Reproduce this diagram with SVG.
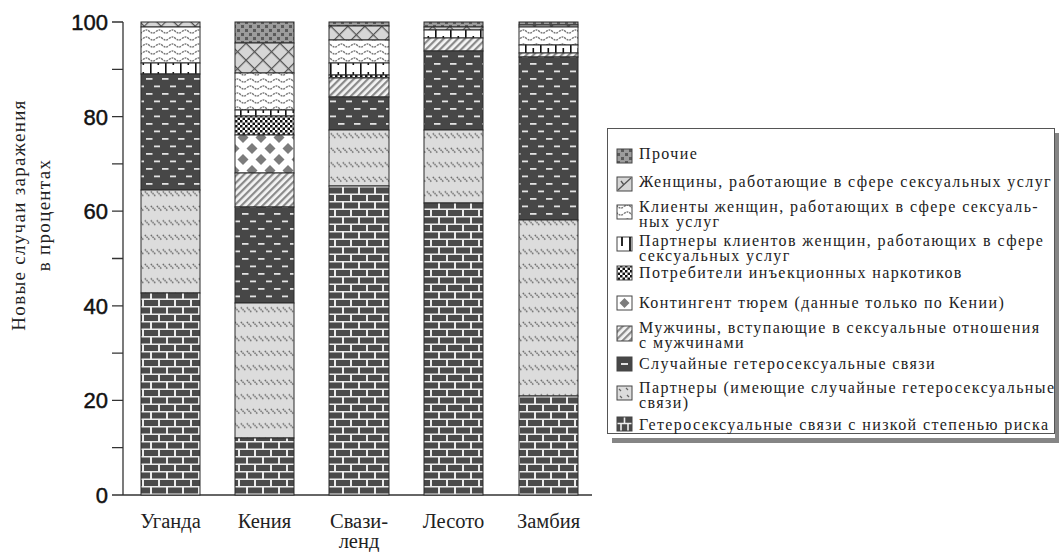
<svg xmlns="http://www.w3.org/2000/svg" width="1059" height="552" viewBox="0 0 1059 552">
<style>
.seg{stroke:#2a2a2a;stroke-width:1}
.ax{stroke:#333;stroke-width:1.3;fill:none}
.tl{font-family:"Liberation Sans",Arial,sans-serif;font-size:22px;fill:#111;stroke:#111;stroke-width:0.45;text-anchor:end}
.cl{font-family:"Liberation Serif","Times New Roman",serif;font-size:20.5px;fill:#222;text-anchor:middle}
.lg{font-family:"Liberation Serif","Times New Roman",serif;font-size:16px;letter-spacing:1.4px;fill:#222}
.yt{font-family:"Liberation Serif","Times New Roman",serif;font-size:19px;letter-spacing:1.3px;fill:#222;text-anchor:middle}
.sw{stroke:#444;stroke-width:1}
</style>
<defs>
<pattern id="pBrick" width="16" height="15" patternUnits="userSpaceOnUse">
<rect width="16" height="15" fill="#ececec"/>
<rect x="0" y="0" width="14" height="6" fill="#4a4a4a"/>
<rect x="-8" y="7.5" width="14" height="6" fill="#4a4a4a"/>
<rect x="8" y="7.5" width="14" height="6" fill="#4a4a4a"/>
</pattern>
<pattern id="pDark" width="16" height="15" patternUnits="userSpaceOnUse">
<rect width="16" height="15" fill="#474747"/>
<rect x="2" y="3" width="6.5" height="1.8" fill="#e2e2e2"/>
<rect x="10" y="10.5" width="6.5" height="1.8" fill="#e2e2e2"/>
</pattern>
<pattern id="pLight" width="6" height="14.5" patternUnits="userSpaceOnUse">
<rect width="6" height="14.5" fill="#dcdcdc"/>
<line x1="0.8" y1="3" x2="5.6" y2="7.8" stroke="#666" stroke-width="1.4" stroke-dasharray="1.6 0.8"/>
</pattern>
<pattern id="pHatch" width="5" height="5" patternUnits="userSpaceOnUse" patternTransform="rotate(45)">
<rect width="5" height="5" fill="#f4f4f4"/>
<rect x="0" y="0" width="2.2" height="5" fill="#8a8a8a"/>
</pattern>
<pattern id="pDiam" width="18" height="22" patternUnits="userSpaceOnUse">
<rect width="18" height="22" fill="#fff"/>
<polygon points="9,0 14.5,5.5 9,11 3.5,5.5" fill="#7c7c7c"/>
<polygon points="0,11 5.5,16.5 0,22 -5.5,16.5" fill="#7c7c7c"/>
<polygon points="18,11 23.5,16.5 18,22 12.5,16.5" fill="#7c7c7c"/>
</pattern>
<pattern id="pCheck" width="5" height="5" patternUnits="userSpaceOnUse">
<rect width="5" height="5" fill="#fff"/>
<rect x="0" y="0" width="2.5" height="2.5" fill="#111"/>
<rect x="2.5" y="2.5" width="2.5" height="2.5" fill="#111"/>
</pattern>
<pattern id="pTick" width="15" height="12" patternUnits="userSpaceOnUse">
<rect width="15" height="12" fill="#fff"/>
<rect x="0" y="0" width="1.6" height="12" fill="#111"/>
<rect x="7.5" y="0" width="1.6" height="5" fill="#111"/>
</pattern>
<pattern id="pWave" width="13" height="7" patternUnits="userSpaceOnUse">
<rect width="13" height="7" fill="#fff"/>
<path d="M0,3.5 Q3.25,0.5 6.5,3.5 T13,3.5" fill="none" stroke="#777" stroke-width="1.4" stroke-dasharray="2 0.8"/>
</pattern>
<pattern id="pWomen" width="12" height="12" patternUnits="userSpaceOnUse" patternTransform="rotate(45)">
<rect width="12" height="12" fill="#d6d6d6"/>
<path d="M0,0.6 H12 M0.6,0 V12" stroke="#555" stroke-width="1.2" fill="none"/>
</pattern>
<pattern id="pOther" width="8" height="8" patternUnits="userSpaceOnUse">
<rect width="8" height="8" fill="#9c9c9c"/>
<rect x="1" y="1" width="3" height="3" fill="#5a5a5a"/>
<rect x="5" y="5" width="3" height="3" fill="#5a5a5a"/>
</pattern>
</defs>

<g id="axis">
<line class="ax" x1="123" y1="22" x2="123" y2="495"/>
<line class="ax" x1="123" y1="495" x2="592" y2="495"/>
<path class="ax" d="M112,22H123M112,69.3H123M112,116.6H123M112,163.9H123M112,211.2H123M112,258.5H123M112,305.8H123M112,353.1H123M112,400.4H123M112,447.7H123M112,495H123"/>
<text class="tl" x="108" y="30">100</text>
<text class="tl" x="108" y="124.6">80</text>
<text class="tl" x="108" y="219.2">60</text>
<text class="tl" x="108" y="313.8">40</text>
<text class="tl" x="108" y="408.4">20</text>
<text class="tl" x="108" y="503">0</text>
<text class="yt" transform="translate(25,215) rotate(-90)">Новые случаи заражения</text>
<text class="yt" transform="translate(50,215) rotate(-90)">в процентах</text>
</g>

<g id="bar-uganda">
<rect class="seg" x="141" y="22" width="59" height="5" fill="url(#pWomen)"/>
<rect class="seg" x="141" y="27" width="59" height="36" fill="url(#pWave)"/>
<rect class="seg" x="141" y="63" width="59" height="11" fill="url(#pTick)"/>
<rect class="seg" x="141" y="74" width="59" height="116" fill="url(#pDark)"/>
<rect class="seg" x="141" y="190" width="59" height="103" fill="url(#pLight)"/>
<rect class="seg" x="141" y="293" width="59" height="202" fill="url(#pBrick)"/>
<text class="cl" x="170.5" y="528">Уганда</text>
</g>

<g id="bar-kenya">
<rect class="seg" x="235" y="22" width="59" height="21" fill="url(#pOther)"/>
<rect class="seg" x="235" y="43" width="59" height="30" fill="url(#pWomen)"/>
<rect class="seg" x="235" y="73" width="59" height="37" fill="url(#pWave)"/>
<rect class="seg" x="235" y="110" width="59" height="6" fill="url(#pTick)"/>
<rect class="seg" x="235" y="116" width="59" height="19" fill="url(#pCheck)"/>
<rect class="seg" x="235" y="135" width="59" height="38" fill="url(#pDiam)"/>
<rect class="seg" x="235" y="173" width="59" height="34" fill="url(#pHatch)"/>
<rect class="seg" x="235" y="207" width="59" height="96" fill="url(#pDark)"/>
<rect class="seg" x="235" y="303" width="59" height="135" fill="url(#pLight)"/>
<rect class="seg" x="235" y="438" width="59" height="57" fill="url(#pBrick)"/>
<text class="cl" x="264.5" y="528">Кения</text>
</g>

<g id="bar-swaziland">
<rect class="seg" x="329" y="22" width="60" height="4" fill="url(#pOther)"/>
<rect class="seg" x="329" y="26" width="60" height="14" fill="url(#pWomen)"/>
<rect class="seg" x="329" y="40" width="60" height="23" fill="url(#pWave)"/>
<rect class="seg" x="329" y="63" width="60" height="12" fill="url(#pTick)"/>
<rect class="seg" x="329" y="75" width="60" height="3" fill="url(#pCheck)"/>
<rect class="seg" x="329" y="78" width="60" height="19" fill="url(#pHatch)"/>
<rect class="seg" x="329" y="97" width="60" height="33" fill="url(#pDark)"/>
<rect class="seg" x="329" y="130" width="60" height="56" fill="url(#pLight)"/>
<rect class="seg" x="329" y="186" width="60" height="309" fill="url(#pBrick)"/>
<text class="cl" x="359" y="528">Свази-</text>
<text class="cl" x="359" y="548">ленд</text>
</g>

<g id="bar-lesotho">
<rect class="seg" x="424" y="22" width="59" height="5" fill="url(#pOther)"/>
<rect class="seg" x="424" y="27" width="59" height="3" fill="url(#pWomen)"/>
<rect class="seg" x="424" y="30" width="59" height="8" fill="url(#pTick)"/>
<rect class="seg" x="424" y="38" width="59" height="13" fill="url(#pHatch)"/>
<rect class="seg" x="424" y="51" width="59" height="79" fill="url(#pDark)"/>
<rect class="seg" x="424" y="130" width="59" height="73" fill="url(#pLight)"/>
<rect class="seg" x="424" y="203" width="59" height="292" fill="url(#pBrick)"/>
<text class="cl" x="453.5" y="528">Лесото</text>
</g>

<g id="bar-zambia">
<rect class="seg" x="519" y="22" width="59" height="3" fill="url(#pOther)"/>
<rect class="seg" x="519" y="25" width="59" height="2" fill="url(#pWomen)"/>
<rect class="seg" x="519" y="27" width="59" height="18" fill="url(#pWave)"/>
<rect class="seg" x="519" y="45" width="59" height="8" fill="url(#pTick)"/>
<rect class="seg" x="519" y="53" width="59" height="4" fill="url(#pHatch)"/>
<rect class="seg" x="519" y="57" width="59" height="163" fill="url(#pDark)"/>
<rect class="seg" x="519" y="220" width="59" height="176" fill="url(#pLight)"/>
<rect class="seg" x="519" y="396" width="59" height="99" fill="url(#pBrick)"/>
<text class="cl" x="548.5" y="528">Замбия</text>
</g>

<g id="connectors"></g>

<g id="legend">
<rect x="612" y="133" width="447" height="310" fill="#858585"/>
<rect x="607" y="128" width="448" height="310" fill="#fff"/>
<rect x="607.5" y="128.5" width="447" height="305" fill="#fff" stroke="#555" stroke-width="1"/>
<g id="lg-other">
<rect class="sw" x="617" y="149" width="15" height="14" fill="url(#pOther)"/>
<text class="lg" x="639" y="159">Прочие</text>
</g>
<g id="lg-women">
<rect class="sw" x="617" y="177" width="15" height="14" fill="#d6d6d6"/>
<path d="M618,190 L631,178 M621,181 L624,185" stroke="#555" stroke-width="1.3" fill="none"/>
<text class="lg" x="639" y="187">Женщины, работающие в сфере сексуальных услуг</text>
</g>
<g id="lg-clients">
<rect class="sw" x="617" y="205" width="15" height="14" fill="url(#pWave)"/>
<text class="lg" x="639" y="212">Клиенты женщин, работающих в сфере сексуаль-</text>
<text class="lg" x="639" y="227">ных услуг</text>
</g>
<g id="lg-partners-clients">
<rect class="sw" x="617" y="237" width="15" height="14" fill="#fff"/>
<path d="M622,237 V246 M630,237 V251" stroke="#111" stroke-width="1.8" fill="none"/>
<text class="lg" x="639" y="246">Партнеры клиентов женщин, работающих в сфере</text>
<text class="lg" x="639" y="261">сексуальных услуг</text>
</g>
<g id="lg-idu">
<rect class="sw" x="617" y="266" width="15" height="14" fill="url(#pCheck)"/>
<text class="lg" x="639" y="278">Потребители инъекционных наркотиков</text>
</g>
<g id="lg-prison">
<rect class="sw" x="617" y="296" width="15" height="14" fill="#fff"/>
<polygon points="624.5,298 629.5,303 624.5,308 619.5,303" fill="#7c7c7c"/>
<text class="lg" x="639" y="308">Контингент тюрем (данные только по Кении)</text>
</g>
<g id="lg-msm">
<rect class="sw" x="617" y="326" width="15" height="15" fill="url(#pHatch)"/>
<text class="lg" x="639" y="333">Мужчины, вступающие в сексуальные отношения</text>
<text class="lg" x="639" y="348">с мужчинами</text>
</g>
<g id="lg-casual">
<rect class="sw" x="617" y="357" width="15" height="14" fill="#474747"/>
<rect x="621" y="363" width="7" height="2" fill="#e2e2e2"/>
<text class="lg" x="639" y="369">Случайные гетеросексуальные связи</text>
</g>
<g id="lg-partners">
<rect class="sw" x="617" y="386" width="15" height="14" fill="#dcdcdc"/>
<path d="M619,389 l2,2 M626,388 l2,2 M620,396 l2,2 M627,395 l2,2" stroke="#666" stroke-width="1.2"/>
<text class="lg" x="639" y="393">Партнеры (имеющие случайные гетеросексуальные</text>
<text class="lg" x="639" y="408">связи)</text>
</g>
<g id="lg-lowrisk">
<rect class="sw" x="617" y="417" width="15" height="14" fill="#4a4a4a"/>
<path d="M617.5,423.5 H631.5 M624.5,417.5 V423.5 M621,423.5 V430.5 M628,423.5 V430.5" stroke="#eee" stroke-width="1.6" fill="none"/>
<text class="lg" x="639" y="430">Гетеросексуальные связи с низкой степенью риска</text>
</g>
</g>
</svg>
